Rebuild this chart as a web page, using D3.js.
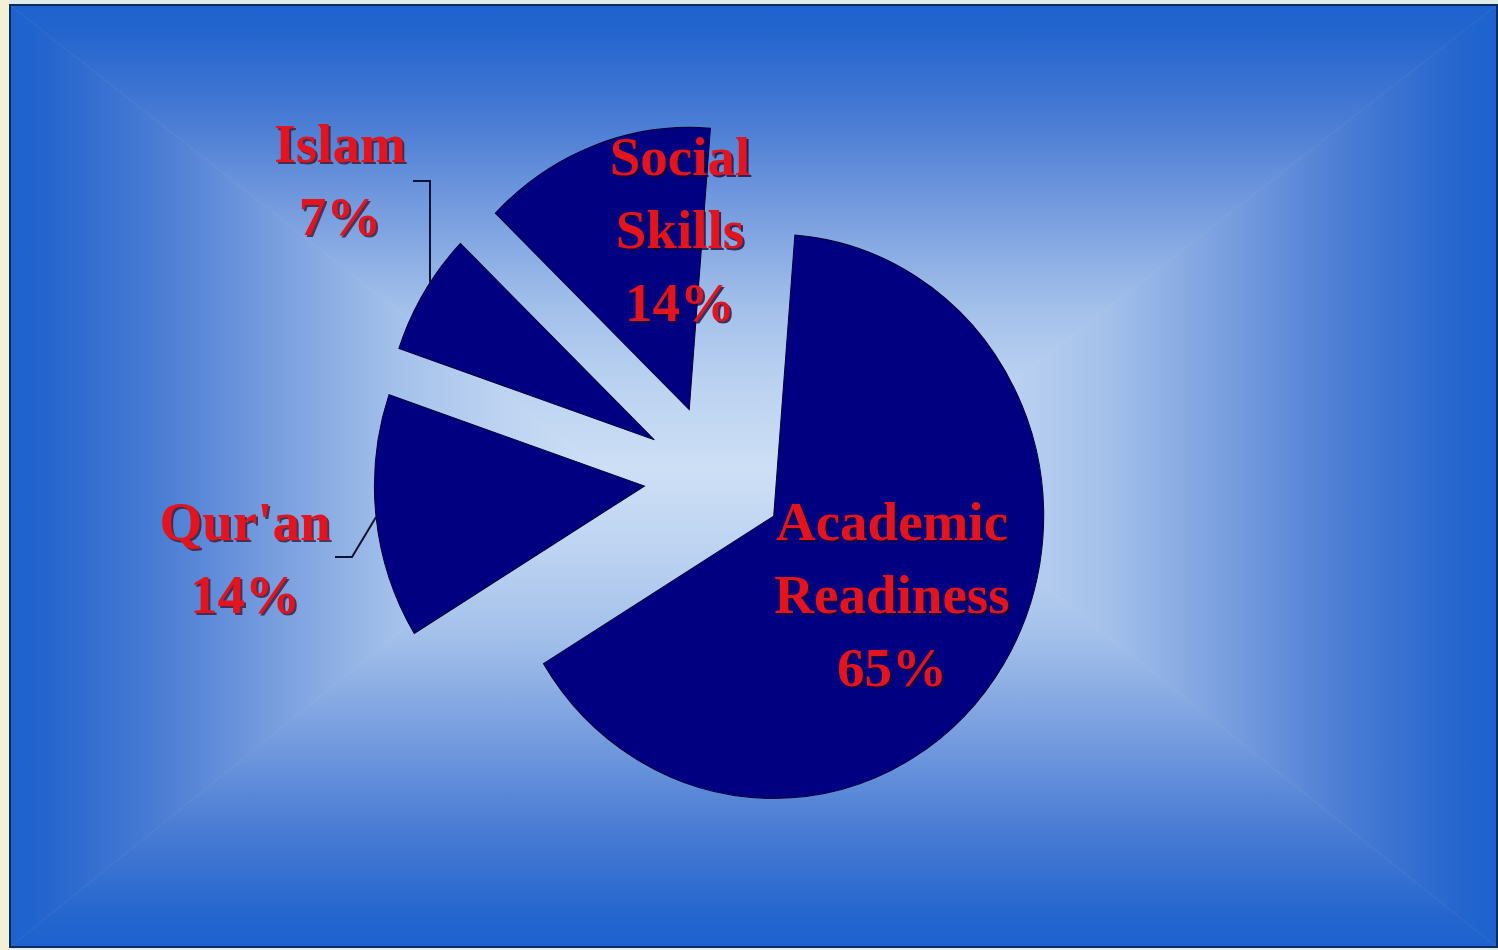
<!DOCTYPE html>
<html>
<head>
<meta charset="utf-8">
<script src="https://cdn.jsdelivr.net/npm/d3@7"></script>
<style>
  html, body { margin: 0; padding: 0; background: #e3eee9; overflow: hidden; }
  svg { display: block; }
</style>
</head>
<body>
<svg id="chart" width="1498" height="950"></svg>
<script>
// ---- data ----
const categories = ["Academic Readiness", "Qur'an", "Islam", "Social Skills"];
const labelLines = [["Academic", "Readiness"], ["Qur'an"], ["Islam"], ["Social", "Skills"]];
const values = [65, 14, 7, 14];

// ---- layout ----
const W = 1498, H = 950;
const plot = { x0: 10, y0: 5, x1: 1497, y1: 947 };
const glow = { xL: 600, xR: 900, y: 470 };   // centre band of the rectangular background gradient
const pieCenter = { x: 714, y: 478 };
const radius = 270;
const yStretch = 1.045;
const explode = 70;
const startDeg = 4.5;
const fontSize = 55;
const lineGap = 73;

// label placement: centre x and first baseline for each category
const labelPos = {
  "Academic Readiness": { x: 892, y: 540, inside: true },
  "Qur'an": { x: 245, y: 540, leader: [[352, 557], [335, 557]], hit: "bisector" },
  "Islam": { x: 340, y: 162, leader: [[430, 181], [413, 181]], hit: "vertical" },
  "Social Skills": { x: 680, y: 175, inside: true }
};

const svg = d3.select("#chart");
const defs = svg.append("defs");

// outer frame
svg.append("rect").attr("x", 0).attr("y", 0).attr("width", W).attr("height", H).attr("fill", "#dfece8");
svg.append("rect").attr("x", 0).attr("y", 0).attr("width", 9).attr("height", H).attr("fill", "#f3f0d6");

// rectangular (path-style) gradient built from four pieces meeting on a centre band
const stops = [
  [0, "#1c62cf"], [0.06, "#2465cd"], [0.25, "#4a7cd4"], [0.45, "#789edf"],
  [0.65, "#a3c0ea"], [0.83, "#bdd3f1"], [1, "#cddff5"]
];
function grad(id, x1, y1, x2, y2) {
  const g = defs.append("linearGradient").attr("id", id)
    .attr("gradientUnits", "userSpaceOnUse")
    .attr("x1", x1).attr("y1", y1).attr("x2", x2).attr("y2", y2);
  stops.forEach(s => g.append("stop").attr("offset", s[0]).attr("stop-color", s[1]));
}
grad("gTop", 0, plot.y0, 0, glow.y);
grad("gBottom", 0, plot.y1, 0, glow.y);
grad("gLeft", plot.x0, 0, glow.xL, 0);
grad("gRight", plot.x1, 0, glow.xR, 0);

const bg = svg.append("g");
const poly = (pts, fill) => bg.append("path")
  .attr("d", "M" + pts.map(p => p.join(",")).join("L") + "Z")
  .attr("fill", fill).attr("stroke", fill).attr("stroke-width", 0.6);
poly([[plot.x0, plot.y0], [plot.x1, plot.y0], [glow.xR, glow.y], [glow.xL, glow.y]], "url(#gTop)");
poly([[plot.x0, plot.y1], [plot.x1, plot.y1], [glow.xR, glow.y], [glow.xL, glow.y]], "url(#gBottom)");
poly([[plot.x0, plot.y0], [plot.x0, plot.y1], [glow.xL, glow.y]], "url(#gLeft)");
poly([[plot.x1, plot.y0], [plot.x1, plot.y1], [glow.xR, glow.y]], "url(#gRight)");

svg.append("rect")
  .attr("x", plot.x0).attr("y", plot.y0)
  .attr("width", plot.x1 - plot.x0).attr("height", plot.y1 - plot.y0)
  .attr("fill", "none").attr("stroke", "#0d2c5c").attr("stroke-width", 2);

// ---- pie ----
const start = startDeg * Math.PI / 180;
const pie = d3.pie().sort(null).startAngle(start).endAngle(start + 2 * Math.PI);
const arcs = pie(values);
const arc = d3.arc().innerRadius(0).outerRadius(radius);
const total = d3.sum(values);
const pct = d3.format(".0%");

const pieG = svg.append("g")
  .attr("transform", `translate(${pieCenter.x},${pieCenter.y}) scale(1,${yStretch})`);

const mid = d => (d.startAngle + d.endAngle) / 2;

pieG.selectAll("path.slice").data(arcs).enter().append("path")
  .attr("class", "slice")
  .attr("transform", d => `translate(${explode * Math.sin(mid(d))},${-explode * Math.cos(mid(d))})`)
  .attr("d", arc)
  .attr("fill", "#000080")
  .attr("stroke", "#00003a")
  .attr("stroke-width", 1);

// apex of an exploded slice, in page coordinates
function apex(d) {
  return [pieCenter.x + explode * Math.sin(mid(d)), pieCenter.y - explode * Math.cos(mid(d)) * yStretch];
}
// where a leader meets the slice's outer edge
function edgePoint(d, mode, elbow) {
  const a = apex(d);
  if (mode === "vertical") {
    const s = (elbow[0] - a[0]) / radius;
    return [elbow[0], a[1] - radius * Math.sqrt(1 - s * s) * yStretch];
  }
  const m = mid(d);
  return [a[0] + radius * Math.sin(m), a[1] - radius * Math.cos(m) * yStretch];
}

// leader lines
arcs.forEach((d, i) => {
  const lp = labelPos[categories[i]];
  if (!lp.leader) return;
  const pts = [edgePoint(d, lp.hit, lp.leader[0]), ...lp.leader];
  svg.append("path")
    .attr("d", d3.line()(pts))
    .attr("fill", "none")
    .attr("stroke", "#0e1236")
    .attr("stroke-width", 2);
});

// labels
const labelG = svg.append("g")
  .attr("font-family", "'Liberation Serif', 'Times New Roman', serif")
  .attr("font-weight", "bold")
  .attr("font-size", fontSize)
  .attr("text-anchor", "middle");

arcs.forEach((d, i) => {
  const lp = labelPos[categories[i]];
  const lines = labelLines[i].concat([pct(values[i] / total)]);
  lines.forEach((t, j) => {
    labelG.append("text")
      .attr("x", lp.x + 2).attr("y", lp.y + j * lineGap + 2)
      .attr("fill", lp.inside ? "#1a0030" : "#3a0f2a")
      .attr("opacity", 0.75)
      .text(t);
    labelG.append("text")
      .attr("x", lp.x).attr("y", lp.y + j * lineGap)
      .attr("fill", "#e3141e")
      .text(t);
  });
});
</script>
</body>
</html>
